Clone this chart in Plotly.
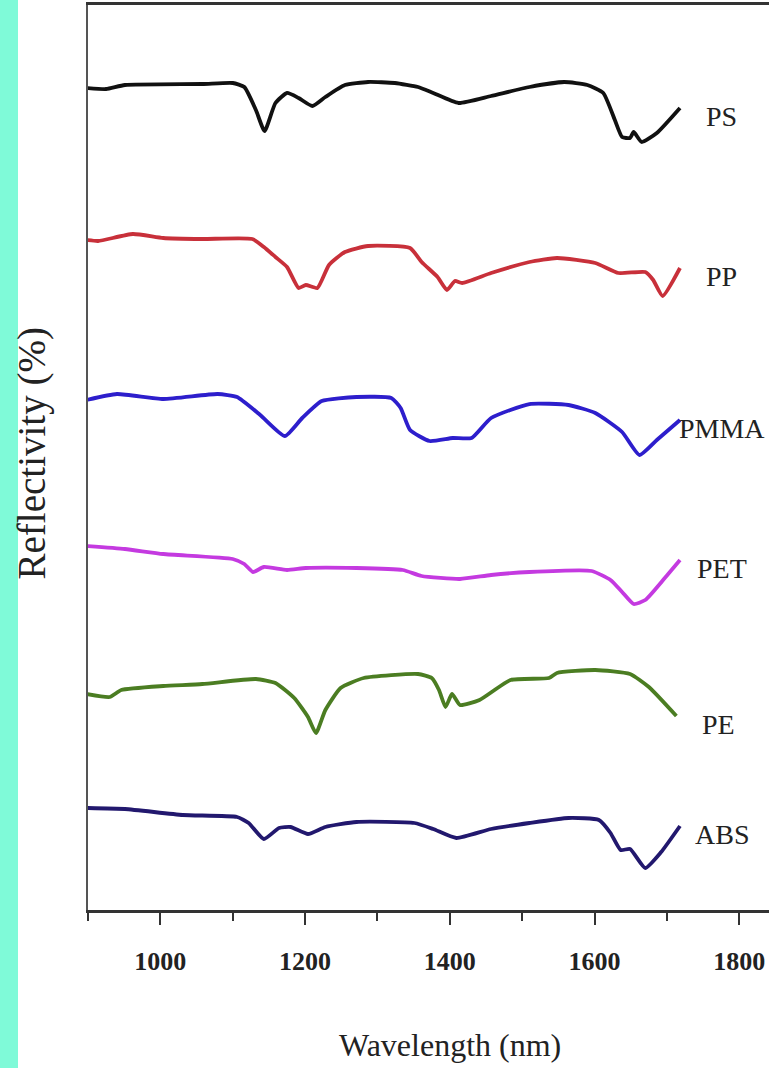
import plotly.graph_objects as go

# ---- data (wavelength in nm, reflectivity in offset arbitrary units) ----
ps_x = [898, 925, 951, 1058, 1100, 1116, 1132, 1144, 1159, 1175, 1191, 1210, 1228, 1255, 1287, 1324,
        1356, 1377, 1412, 1457, 1510, 1558, 1590, 1612, 1628, 1638, 1649, 1654, 1665, 1686, 1718]
ps_y = [82.2, 82.1, 82.5, 82.6, 82.7, 82.3, 80.0, 77.9, 80.7, 81.7, 81.2, 80.4, 81.3, 82.5, 82.8, 82.7,
        82.3, 81.7, 80.7, 81.4, 82.3, 82.8, 82.5, 81.7, 79.0, 77.3, 77.2, 77.8, 76.8, 77.7, 80.2]

pp_x = [898, 914, 962, 1004, 1058, 1127, 1143, 1159, 1175, 1191, 1201, 1217, 1233, 1255, 1287, 1345,
        1361, 1383, 1396, 1407, 1417, 1457, 1510, 1548, 1601, 1633, 1670, 1681, 1694, 1718]
pp_y = [67.0, 66.9, 67.6, 67.2, 67.1, 67.1, 66.3, 65.3, 64.3, 62.2, 62.5, 62.2, 64.5, 65.8, 66.4, 66.2,
        64.8, 63.3, 62.0, 62.9, 62.7, 63.7, 64.8, 65.2, 64.7, 63.7, 63.8, 63.0, 61.4, 64.2]

pmma_x = [898, 940, 1004, 1079, 1106, 1138, 1172, 1196, 1223, 1271, 1319, 1332, 1345, 1372, 1404,
          1430, 1457, 1510, 1564, 1601, 1638, 1662, 1686, 1718]
pmma_y = [51.0, 51.6, 51.1, 51.6, 51.3, 49.5, 47.4, 49.2, 50.9, 51.3, 51.2, 50.2, 48.0, 46.9, 47.2,
          47.2, 49.2, 50.6, 50.5, 49.7, 47.8, 45.5, 47.0, 49.0]

pet_x = [898, 951, 1004, 1100, 1116, 1128, 1143, 1175, 1201, 1271, 1335, 1361, 1414, 1457, 1510,
         1596, 1622, 1638, 1654, 1670, 1697, 1718]
pet_y = [36.4, 36.1, 35.6, 35.1, 34.6, 33.8, 34.3, 34.0, 34.2, 34.2, 34.0, 33.4, 33.1, 33.5, 33.8,
         33.9, 33.0, 31.8, 30.6, 31.0, 33.2, 35.0]

pe_x = [898, 930, 946, 1004, 1058, 1132, 1159, 1185, 1204, 1215, 1228, 1249, 1281, 1356, 1375, 1385,
        1394, 1403, 1414, 1441, 1484, 1537, 1548, 1601, 1649, 1675, 1713]
pe_y = [21.6, 21.3, 22.0, 22.4, 22.6, 23.1, 22.7, 21.2, 19.3, 17.7, 20.0, 22.2, 23.2, 23.6, 23.2, 22.0,
        20.3, 21.6, 20.5, 21.0, 23.0, 23.2, 23.7, 24.0, 23.6, 22.3, 19.4]

abs_x = [898, 951, 1031, 1106, 1122, 1143, 1164, 1180, 1204, 1228, 1271, 1351, 1377, 1409, 1457,
         1510, 1564, 1606, 1622, 1636, 1649, 1670, 1692, 1718]
abs_y = [10.2, 10.1, 9.5, 9.3, 8.7, 7.1, 8.2, 8.3, 7.6, 8.3, 8.8, 8.7, 8.1, 7.2, 8.1,
         8.7, 9.2, 9.0, 7.7, 6.0, 6.1, 4.2, 5.8, 8.4]

names = ["PS", "PP", "PMMA", "PET", "PE", "ABS"]
xs = [ps_x, pp_x, pmma_x, pet_x, pe_x, abs_x]
ys = [ps_y, pp_y, pmma_y, pet_y, pe_y, abs_y]
colors = ["#111111", "#c8303a", "#2d1ecc", "#c43ae0", "#4b7d22", "#22186e"]

x_ticks = [1000, 1200, 1400, 1600, 1800]

fig = go.Figure()
for n, x, y, c in zip(names, xs, ys, colors):
    fig.add_trace(go.Scatter(x=x, y=y, mode="lines", name=n,
                             line=dict(color=c, width=3.8, shape="spline", smoothing=0.5),
                             showlegend=False))
    fig.add_annotation(x=x[-1], y=y[-1], text=n, showarrow=False, xanchor="center",
                       yanchor="middle", xshift=42, yshift=-8,
                       font=dict(family="Liberation Serif", size=28, color="#222222"))

fig.add_annotation(xref="paper", yref="paper", x=0.532, y=-0.149, xanchor="center",
                   yanchor="middle", text="Wavelength (nm)", showarrow=False,
                   font=dict(family="Liberation Serif", size=32, color="#222222"))
fig.add_annotation(xref="paper", yref="paper", x=-0.083, y=0.505, xanchor="center",
                   yanchor="middle", text="Reflectivity (%)", textangle=-90, showarrow=False,
                   font=dict(family="Liberation Serif", size=39, color="#222222"))

# aquamarine strip on the left edge
fig.add_shape(type="rect", xref="paper", yref="paper", x0=-88/681, x1=(18-88)/681,
              y0=-158/905, y1=1+5/905, fillcolor="#7ffad8", line=dict(width=0), layer="below")

fig.update_layout(
    width=769, height=1068,
    margin=dict(l=88, r=0, t=5, b=158),
    paper_bgcolor="white", plot_bgcolor="white",
    xaxis=dict(range=[900, 1841], tickvals=x_ticks, ticks="outside", ticklen=12, tickwidth=2,
               tickcolor="#333333", showline=True, linecolor="#333333", linewidth=2.5, mirror=True,
               showgrid=False, zeroline=False, ticklabelstandoff=14,
               minor=dict(tickvals=[900, 1100, 1300, 1500, 1700], ticks="outside", ticklen=8,
                          tickwidth=1.5, tickcolor="#333333"),
               tickfont=dict(family="Liberation Serif", size=26, color="#222222", weight="bold")),
    yaxis=dict(range=[0, 90.5], showticklabels=False, ticks="", showline=True, linecolor="#555555",
               linewidth=2, mirror=False, showgrid=False, zeroline=False),
)

fig.write_html("out.html", config={"displayModeBar": False},
               post_script="document.body.style.margin='0';document.body.style.padding='0';")
